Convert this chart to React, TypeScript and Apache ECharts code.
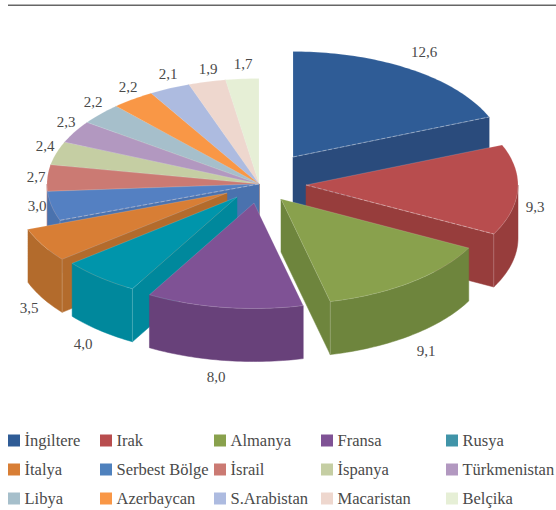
import React, { useEffect, useRef } from "react";
import * as echarts from "echarts";

// Share of each partner, clockwise from twelve o'clock.
const countries = ["İngiltere", "Irak", "Almanya", "Fransa", "Rusya", "İtalya", "Serbest Bölge", "İsrail", "İspanya", "Türkmenistan", "Libya", "Azerbaycan", "S.Arabistan", "Macaristan", "Belçika"];
const shares = [12.6, 9.3, 9.1, 8.0, 4.0, 3.5, 3.0, 2.7, 2.4, 2.3, 2.2, 2.2, 2.1, 1.9, 1.7];

// Slice colours: upper face, side wall, legend swatch.
const topColors = ["#2f5c96", "#b84d4e", "#89a14d", "#7f5295", "#0095ab", "#d87e35", "#5480c2", "#cb7a73", "#c5cea3", "#b298c0", "#a6bfcb", "#f99746", "#adbbe0", "#eed7ce", "#e6efd6"];
const sideColors = ["#2a4b7c", "#973d3c", "#6e853d", "#68417a", "#00889c", "#b36b2c", "#4a72ae", "#b56a64", "#aab38a", "#9a82a8", "#8fa8b4", "#d98038", "#94a3c8", "#d4bdb4", "#cdd6bd"];
const swatchColors = ["#2f5c96", "#b84d4e", "#89a14d", "#7f5295", "#4094a8", "#d87e35", "#4f81bd", "#cb7a73", "#c5cea3", "#b298c0", "#a6bfcb", "#f99746", "#adbbe0", "#eed7ce", "#e6efd6"];

// How far each slice is pulled away from the pie centre on screen, [dx, dy].
const pullOffsets = [[34, -27], [47, 1], [22, 15], [-5, 19], [-22, 13], [-32, 9], [0, 0], [0, 0], [0, 0], [0, 0], [0, 0], [0, 0], [0, 0], [0, 0], [0, 0]];

// Painting order, back to front.
const paintOrder = [14, 13, 12, 11, 10, 9, 8, 7, 6, 0, 1, 5, 4, 3, 2];

// Slices whose front top edge carries the pale dashed highlight.
const dashedEdges = [0, 1, 6];

// Value label anchors.
const labelAnchors = [[424, 52], [535, 207], [426, 351], [216, 377], [83, 344], [29, 308], [37, 206], [36, 177], [45, 146], [66, 122], [93, 102], [128, 87], [168, 74], [208, 69], [243, 64]];

// Legend columns as indices into countries, with their left edges.
const legendColumns = [[0, 5, 10], [1, 6, 11], [2, 7, 12], [3, 8, 13], [4, 9, 14]];
const legendLefts = [8, 100, 214, 321, 446];

const CX = 259;
const CY = 184;
const RX = 212;
const RY = 105.5;
const DEPTH = 53;
const FONT = '"Liberation Serif", serif';

const total = shares.reduce((a, b) => a + b, 0);
const rad = (v: number) => (v / total) * Math.PI * 2;

function sliceElements(i: number) {
  const before = shares.slice(0, i).reduce((a, b) => a + b, 0);
  const a1 = rad(before);
  const a2 = rad(before + shares[i]);
  const ox = CX + pullOffsets[i][0];
  const oy = CY + pullOffsets[i][1];
  const at = (a: number, drop = 0) => [ox + RX * Math.sin(a), oy - RY * Math.cos(a) + drop];
  const arc = (from: number, to: number, drop = 0) => {
    const n = Math.max(2, Math.ceil((to - from) / 0.02));
    const pts: number[][] = [];
    for (let k = 0; k <= n; k++) pts.push(at(from + ((to - from) * k) / n, drop));
    return pts;
  };
  const side = { fill: sideColors[i], stroke: sideColors[i], lineWidth: 0.5 };
  const out: any[] = [];

  const wall = (a: number) => {
    out.push({ type: "polygon", shape: { points: [[ox, oy], at(a), at(a, DEPTH), [ox, oy + DEPTH]] }, style: side });
  };
  const wallA2 = Math.sin(a2) > 0;
  const wallA1 = Math.sin(a1) < 0;
  if (wallA2) wall(a2);
  if (wallA1) wall(a1);

  const r1 = Math.max(a1, Math.PI / 2);
  const r2 = Math.min(a2, (Math.PI * 3) / 2);
  if (r2 > r1) {
    out.push({
      type: "polygon",
      shape: { points: [...arc(r1, r2), ...arc(r1, r2, DEPTH).reverse()] },
      style: side,
    });
    // Pale seam where the curved rim meets the flat wall.
    const seamAngle = wallA2 && a2 === r2 ? a2 : wallA1 && a1 === r1 ? a1 : null;
    if (seamAngle !== null) {
      out.push({
        type: "polyline",
        shape: { points: [at(seamAngle), at(seamAngle, DEPTH)] },
        style: { fill: "none", stroke: "rgba(255,255,255,0.3)", lineWidth: 0.7 },
      });
    }
  }

  out.push({
    type: "polygon",
    shape: { points: [[ox, oy], ...arc(a1, a2)] },
    style: { fill: topColors[i], stroke: "rgba(255,255,255,0.3)", lineWidth: 0.5 },
  });

  if (dashedEdges.includes(i)) {
    const edge = i === 6 ? a1 : a2;
    out.push({
      type: "polyline",
      shape: { points: [[ox, oy], at(edge)] },
      style: { fill: "none", stroke: "rgba(255,255,255,0.45)", lineWidth: 0.7, lineDash: [4, 2] },
    });
  }

  const [lx, ly] = labelAnchors[i];
  out.push({
    type: "text",
    z2: 100,
    style: {
      x: lx,
      y: ly,
      text: shares[i].toFixed(1).replace(".", ","),
      fill: "#4a4a4a",
      font: `15px ${FONT}`,
      align: "center",
      verticalAlign: "middle",
    },
  });
  return out;
}

export default function App() {
  const ref = useRef<HTMLDivElement>(null);
  useEffect(() => {
    const chart = echarts.init(ref.current!, null, { renderer: "svg" });
    chart.setOption({
      animation: false,
      backgroundColor: "#ffffff",
      graphic: {
        elements: [
          { type: "rect", shape: { x: 8, y: 4.5, width: 548, height: 1.5 }, style: { fill: "#666666" } },
        ],
      },
      legend: legendColumns.map((col, c) => ({
        orient: "vertical",
        left: legendLefts[c],
        top: 432,
        padding: 0,
        itemWidth: 12,
        itemHeight: 12,
        itemGap: 12,
        selectedMode: false,
        textStyle: { fontFamily: FONT, fontSize: 16.5, color: "#4a4a4a", padding: [0, 0, 0, -0.5] },
        data: col.map((i) => ({ name: countries[i], icon: "rect", itemStyle: { color: swatchColors[i] } })),
      })),
      series: paintOrder.map((i) => ({
        type: "custom",
        name: countries[i],
        coordinateSystem: "none",
        silent: true,
        clip: false,
        itemStyle: { color: swatchColors[i] },
        data: [shares[i]],
        renderItem: () => ({ type: "group", children: sliceElements(i) }),
      })),
    });
    return () => chart.dispose();
  }, []);
  return <div ref={ref} style={{ position: "absolute", left: 0, top: 0, width: 556, height: 510 }} />;
}
